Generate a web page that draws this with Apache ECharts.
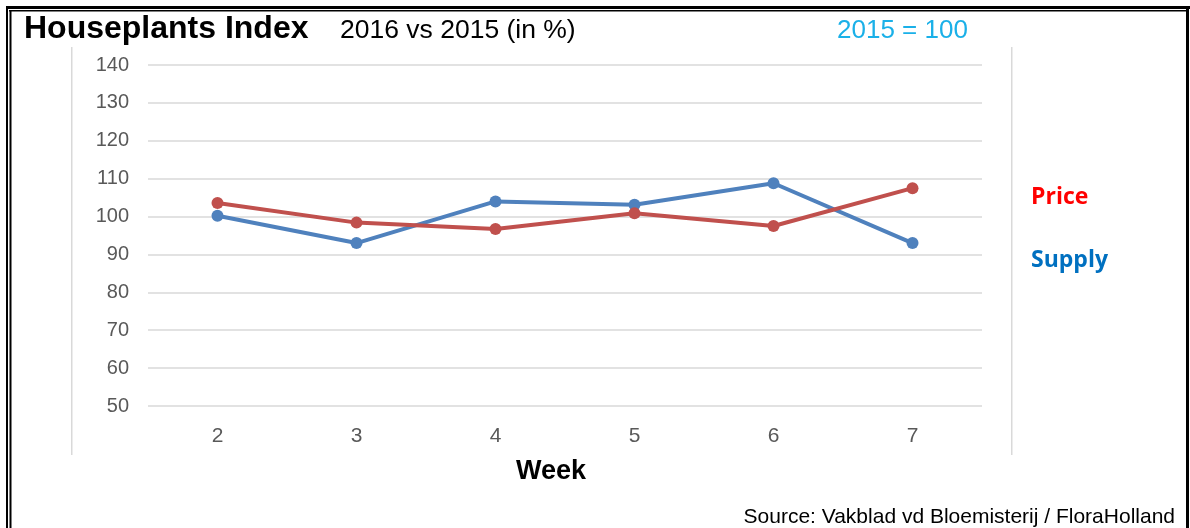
<!DOCTYPE html>
<html>
<head>
<meta charset="utf-8">
<script src="https://cdn.jsdelivr.net/npm/echarts@6/dist/echarts.min.js"></script>
<style>
html,body{margin:0;padding:0;background:#fff;}
#chart{width:1190px;height:528px;}
</style>
</head>
<body>
<div id="chart"></div>
<script>
const weeks = ['2', '3', '4', '5', '6', '7'];
const priceValues = [103.6, 98.4, 96.7, 100.9, 97.5, 107.5];
const supplyValues = [100.2, 93.0, 104.0, 103.1, 108.8, 93.0];
const yTicks = { min: 50, max: 140, interval: 10 };

const chart = echarts.init(document.getElementById('chart'), null, { renderer: 'canvas' });
const FONT = '"Liberation Sans", Arial, sans-serif';
chart.setOption({
  animation: false,
  backgroundColor: '#ffffff',
  grid: { left: 148, right: 208, top: 65, bottom: 122, containLabel: false },
  xAxis: {
    type: 'category',
    data: weeks,
    boundaryGap: true,
    axisLine: { show: false },
    axisTick: { show: false },
    axisLabel: { color: '#595959', fontSize: 21, fontFamily: FONT, margin: 20 },
    name: 'Week',
    nameLocation: 'middle',
    nameGap: 52,
    nameTextStyle: { color: '#000', fontSize: 27, fontWeight: 'bold', fontFamily: FONT, padding: [0, 28, 0, 0] }
  },
  yAxis: {
    type: 'value',
    min: yTicks.min, max: yTicks.max, interval: yTicks.interval,
    axisLine: { show: false },
    axisTick: { show: false },
    axisLabel: { color: '#595959', fontSize: 20, fontFamily: FONT, margin: 19 },
    splitLine: { lineStyle: { color: '#D9D9D9', width: 1.5 } }
  },
  series: [
    {
      name: 'Supply', type: 'line', data: supplyValues,
      symbol: 'circle', symbolSize: 12,
      lineStyle: { color: '#4F81BD', width: 4 },
      itemStyle: { color: '#4F81BD' }
    },
    {
      name: 'Price', type: 'line', data: priceValues,
      symbol: 'circle', symbolSize: 12,
      lineStyle: { color: '#C0504D', width: 4 },
      itemStyle: { color: '#C0504D' }
    }
  ],
  graphic: [
    { type: 'rect', shape: { x: 6, y: 6, width: 1184, height: 3 }, style: { fill: '#000' } },
    { type: 'rect', shape: { x: 9, y: 10, width: 1177, height: 1.5 }, style: { fill: '#000' } },
    { type: 'rect', shape: { x: 6, y: 6, width: 2, height: 522 }, style: { fill: '#000' } },
    { type: 'rect', shape: { x: 9.5, y: 10, width: 2, height: 518 }, style: { fill: '#000' } },
    { type: 'rect', shape: { x: 1186, y: 6, width: 3, height: 522 }, style: { fill: '#000' } },
    { type: 'rect', shape: { x: 71, y: 47, width: 1.5, height: 408 }, style: { fill: '#D9D9D9' } },
    { type: 'rect', shape: { x: 1011, y: 47, width: 1.5, height: 408 }, style: { fill: '#D9D9D9' } },
    { type: 'text', x: 24, y: 13, style: { text: 'Houseplants Index', font: 'bold 32px ' + FONT, fill: '#000' } },
    { type: 'text', x: 340, y: 17, style: { text: '2016 vs 2015 (in %)', font: '26.5px ' + FONT, fill: '#000' } },
    { type: 'text', x: 837, y: 18, style: { text: '2015 = 100', font: '26px ' + FONT, fill: '#1AB0E8' } },
    { type: 'text', x: 1031, y: 186, style: { text: 'Price', font: 'bold 23px "Open Sans", sans-serif', fill: '#FF0000' } },
    { type: 'text', x: 1031, y: 249, style: { text: 'Supply', font: 'bold 23px "Open Sans", sans-serif', fill: '#0070C0' } },
    { type: 'text', right: 15, top: 507, style: { text: 'Source: Vakblad vd Bloemisterij / FloraHolland', font: '21px ' + FONT, fill: '#000' } }
  ]
});
</script>
</body>
</html>
